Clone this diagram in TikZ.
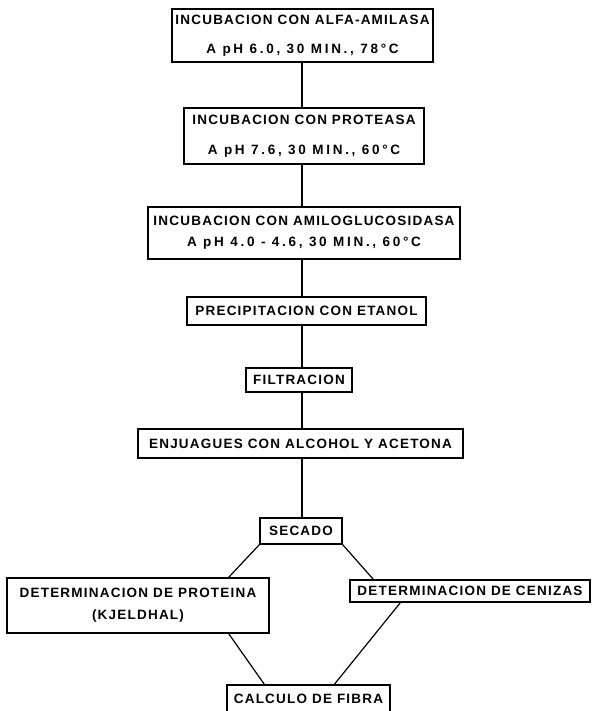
\documentclass[tikz,border=0pt]{standalone}
\usepackage{fontspec}
\newfontfamily\flowfont[LetterSpace=9]{Liberation Sans}
\newcommand\wideline{\addfontfeatures{LetterSpace=20}}
\usetikzlibrary{positioning,calc}

\tikzset{
	stage/.style={draw, line width=1.3pt, inner sep=0pt, align=center,
		font=\flowfont\bfseries\fontsize{13.5}{15}\selectfont},
	link/.style={line width=1.2pt}
}

\begin{document}
\begin{tikzpicture}[x=1pt, y=-1pt]
	\useasboundingbox (0, 0) rectangle (593, 711);

	% Stages:
	\node[stage, minimum width=261pt, minimum height=53pt] (alfa) at (302.5, 35.5)
		{INCUBACION CON ALFA-AMILASA\\[14pt] {\wideline A pH 6.0, 30 MIN., 78°C}};
	\node[stage, minimum width=240pt, minimum height=56pt] (protea) at (304, 136)
		{INCUBACION CON PROTEASA\\[15pt] {\wideline A pH 7.6, 30 MIN., 60°C}};
	\node[stage, minimum width=312pt, minimum height=52pt] (amilo) at (304, 233)
		{INCUBACION CON AMILOGLUCOSIDASA\\[6pt] {\wideline A pH 4.0 - 4.6, 30 MIN., 60°C}};
	\node[stage, minimum width=239pt, minimum height=28pt] (etanol) at (306.5, 311)
		{PRECIPITACION CON ETANOL};
	\node[stage, minimum width=106pt, minimum height=24pt] (filtr) at (299, 380)
		{FILTRACION};
	\node[stage, minimum width=325pt, minimum height=29pt] (enjuag) at (300.5, 443.5)
		{ENJUAGUES CON ALCOHOL Y ACETONA};
	\node[stage, minimum width=82pt, minimum height=26pt] (secado) at (301, 531)
		{SECADO};
	\node[stage, minimum width=262pt, minimum height=55pt] (prote) at (138, 605.5)
		{DETERMINACION DE PROTEINA\\[7pt] (KJELDHAL)};
	\node[stage, minimum width=240pt, minimum height=22pt] (ceniz) at (470, 591)
		{DETERMINACION DE CENIZAS};
	\node[stage, minimum width=163pt, minimum height=28pt] (fibra) at (308.5, 699)
		{CALCULO DE FIBRA};

	% Lines:
	\coordinate (spine) at (302, 0);
	\draw[link] (alfa.south -| spine) -- (protea.north -| spine);
	\draw[link] (protea.south -| spine) -- (amilo.north -| spine);
	\draw[link] (amilo.south -| spine) -- (etanol.north -| spine);
	\draw[link] (etanol.south -| spine) -- (filtr.north -| spine);
	\draw[link] (filtr.south -| spine) -- (enjuag.north -| spine);
	\draw[link] (enjuag.south -| spine) -- (secado.north -| spine);

	\draw[link] (secado.south west) -- ($(prote.north east)+(-41, 0)$);
	\draw[link] (secado.south east) -- ($(ceniz.north west)+(24, 0)$);
	\draw[link] ($(prote.south east)+(-41, 0)$) -- ($(fibra.north west)+(38, 0)$);
	\draw[link] ($(ceniz.south west)+(51, 0)$) -- ($(fibra.north west)+(108, 0)$);

\end{tikzpicture}
\end{document}
